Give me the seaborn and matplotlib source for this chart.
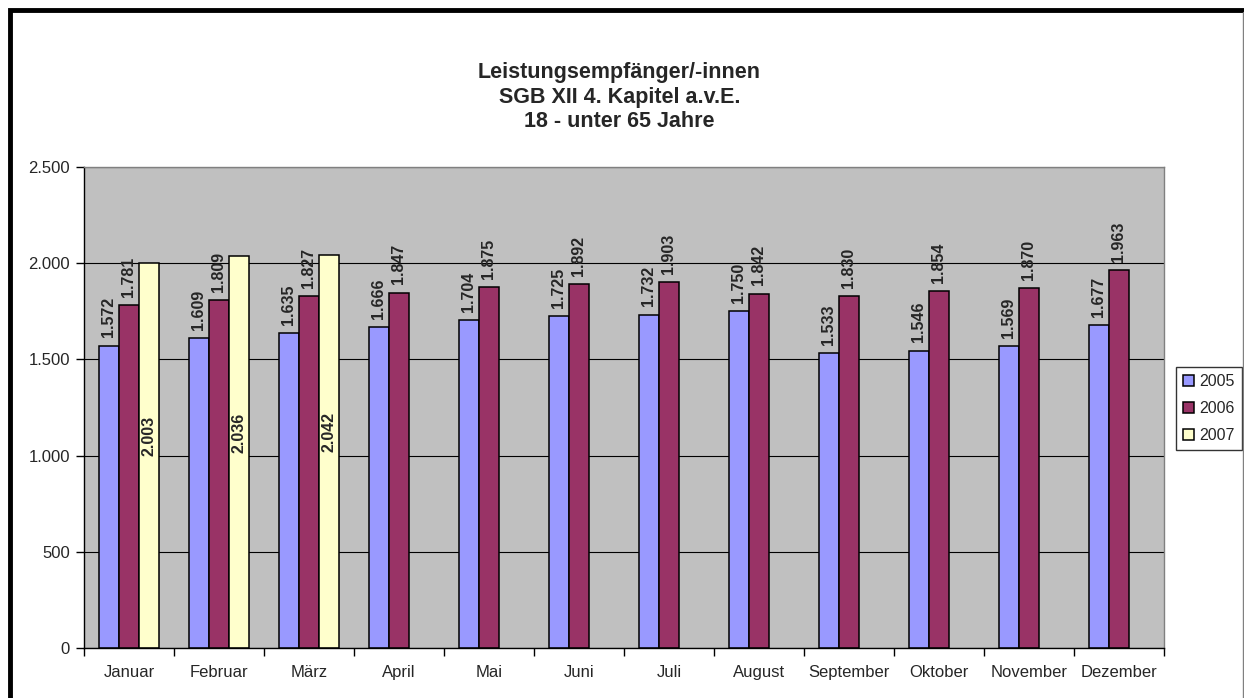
import matplotlib
matplotlib.use("Agg")
import numpy as np
import pandas as pd
import matplotlib.pyplot as plt
import seaborn as sns
from matplotlib.patches import Rectangle
from matplotlib.lines import Line2D
from matplotlib.ticker import FuncFormatter, FixedLocator

months = ["Januar", "Februar", "März", "April", "Mai", "Juni", "Juli",
          "August", "September", "Oktober", "November", "Dezember"]
years = ["2005", "2006", "2007"]
v2005 = [1572, 1609, 1635, 1666, 1704, 1725, 1732, 1750, 1533, 1546, 1569, 1677]
v2006 = [1781, 1809, 1827, 1847, 1875, 1892, 1903, 1842, 1830, 1854, 1870, 1963]
v2007 = [2003, 2036, 2042] + [np.nan] * 9
colors = ["#9999FF", "#993366", "#FFFFCC"]

df = pd.DataFrame({
    "Monat": months * 3,
    "Jahr": ["2005"] * 12 + ["2006"] * 12 + ["2007"] * 12,
    "Wert": v2005 + v2006 + v2007,
})


def de_fmt(v):
    return f"{v:,.0f}".replace(",", ".")


sns.set_style("white")
plt.rcParams["font.family"] = ["Liberation Sans", "DejaVu Sans"]

fig = plt.figure(figsize=(12.44, 6.98), dpi=100)
ax = fig.add_axes([84 / 1244, 50 / 698, 1080 / 1244, 481 / 698])

sns.barplot(data=df, x="Monat", y="Wert", hue="Jahr", order=months,
            hue_order=years, palette=colors, width=0.667, gap=0,
            edgecolor="black", linewidth=1.1, errorbar=None, ax=ax,
            saturation=1)

ax.set_facecolor("#C0C0C0")
ax.set_ylim(0, 2500)
ax.set_xlim(-0.5, 11.5)
ax.set_yticks([0, 500, 1000, 1500, 2000, 2500])
ax.yaxis.set_major_formatter(FuncFormatter(lambda v, p: de_fmt(v)))
ax.grid(axis="y", color="black", linewidth=0.8)
ax.set_axisbelow(True)
ax.set_xlabel("")
ax.set_ylabel("")

ax.tick_params(axis="y", direction="out", length=6, width=1, color="black",
               labelsize=12, pad=4, left=True)
ax.tick_params(axis="x", which="major", length=0, labelsize=12, pad=12)
ax.xaxis.set_minor_locator(FixedLocator(np.arange(-0.5, 12, 1)))
ax.tick_params(axis="x", which="minor", direction="out", length=6, width=1,
               color="black", bottom=True)

for side in ["top", "right"]:
    ax.spines[side].set_color("#808080")
    ax.spines[side].set_linewidth(1)
for side in ["left", "bottom"]:
    ax.spines[side].set_color("black")
    ax.spines[side].set_linewidth(1)

for i, cont in enumerate(ax.containers):
    labels = [de_fmt(v) for v in cont.datavalues]
    if i < 2:
        ax.bar_label(cont, labels=labels, rotation=90, padding=6,
                     fontsize=11.5, fontweight="bold")
    else:
        anns = ax.bar_label(cont, labels=labels, rotation=90,
                            label_type="center", fontsize=11.5,
                            fontweight="bold")
        for a in anns:
            a.xyann = (0, 14)

leg = ax.legend(loc="upper left", bbox_to_anchor=(1176 / 1244, 1 - 367 / 698),
                bbox_transform=fig.transFigure, frameon=True, fancybox=False,
                fontsize=11.5, handlelength=0.7, handleheight=0.7,
                handletextpad=0.3, borderpad=0.45, labelspacing=0.75,
                borderaxespad=0)
leg.get_frame().set_edgecolor("black")
leg.get_frame().set_linewidth(1)
for h in leg.legend_handles:
    h.set_edgecolor("black")

fig.text(0.498, 1 - 97 / 698,
         "Leistungsempfänger/-innen\nSGB XII 4. Kapitel a.v.E.\n18 - unter 65 Jahre",
         ha="center", va="center", fontsize=15.5, fontweight="bold",
         linespacing=1.22)

# outer chart border (thick black, cut at the bottom/right like the source)
fig.patches.append(Rectangle((9.5 / 1244, -0.1), 1.2, 1.1 - 10 / 698,
                             transform=fig.transFigure, fill=False,
                             edgecolor="black", linewidth=3.5))
fig.lines.append(Line2D([1242.5 / 1244] * 2, [0, 1 - 12 / 698],
                        transform=fig.transFigure, color="#808080",
                        linewidth=1))

fig.savefig("out.png", dpi=100, facecolor="white")
